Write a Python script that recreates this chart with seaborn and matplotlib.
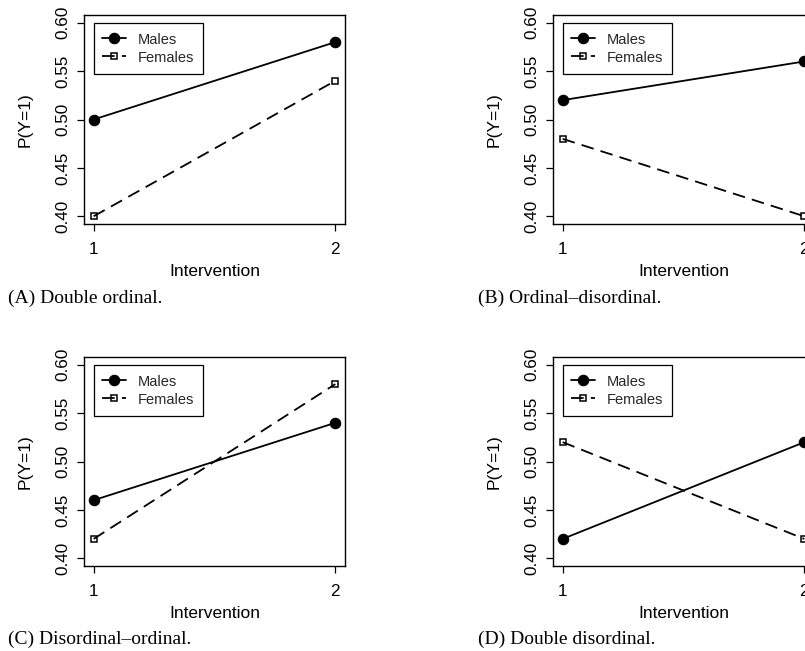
import matplotlib
matplotlib.use("Agg")
import matplotlib.pyplot as plt
import seaborn as sns
import pandas as pd

# Data
interventions = [1, 2]
males_A = [0.50, 0.58]
females_A = [0.40, 0.54]
males_B = [0.52, 0.56]
females_B = [0.48, 0.40]
males_C = [0.46, 0.54]
females_C = [0.42, 0.58]
males_D = [0.42, 0.52]
females_D = [0.52, 0.42]
captions = ["(A) Double ordinal.", "(B) Ordinal\u2013disordinal.",
            "(C) Disordinal\u2013ordinal.", "(D) Double disordinal."]
yticks = [0.40, 0.45, 0.50, 0.55, 0.60]
ytick_labels = ["0.40", "0.45", "0.50", "0.55", "0.60"]
xtick_labels = ["1", "2"]

sns.set_theme(style="ticks")
plt.rcParams["font.family"] = ["Liberation Sans", "DejaVu Sans"]

W, H = 805, 651
fig = plt.figure(figsize=(W / 100, H / 100), dpi=100)

def px_axes(left, top, width, height):
    return fig.add_axes([left / W, 1 - (top + height) / H, width / W, height / H])

panels = [
    (84, 15, males_A, females_A, captions[0], 8, 298),
    (553, 15, males_B, females_B, captions[1], 478, 298),
    (84, 357, males_C, females_C, captions[2], 8, 639),
    (553, 357, males_D, females_D, captions[3], 478, 639),
]

for left, top, m, f, cap, cx, cy in panels:
    ax = px_axes(left, top, 261, 209)
    df = pd.DataFrame({"x": interventions * 2, "y": m + f,
                       "sex": ["Males"] * 2 + ["Females"] * 2})
    dm = df[df.sex == "Males"]
    dfm = df[df.sex == "Females"]
    sns.lineplot(data=dm, x="x", y="y", ax=ax, color="black", lw=1.3,
                 marker="o", markersize=7.5, markerfacecolor="black",
                 markeredgecolor="black", markeredgewidth=0.8, label="Males")
    sns.lineplot(data=dfm, x="x", y="y", ax=ax, color="black", lw=1.3,
                 linestyle=(0, (7, 4)), marker="s", markersize=4.8,
                 markerfacecolor="none", markeredgecolor="black",
                 markeredgewidth=1.1, label="Females")
    ax.set_xlim(0.96, 2.04)
    ax.set_ylim(0.392, 0.608)
    ax.set_xticks(interventions)
    ax.set_xticklabels(xtick_labels)
    ax.set_yticks(yticks)
    ax.set_yticklabels(ytick_labels, rotation=90, va="center")
    ax.tick_params(axis="both", direction="out", length=5, width=0.9,
                   colors="black", labelsize=12.3)
    ax.tick_params(axis="x", pad=8)
    ax.tick_params(axis="y", pad=5)
    for s in ax.spines.values():
        s.set_visible(True)
        s.set_color("black")
        s.set_linewidth(1.0)
    ax.set_xlabel("Intervention", fontsize=12.5, color="black", labelpad=5)
    ax.set_ylabel("P(Y=1)", fontsize=12.5, color="black", labelpad=16)
    ax.set_facecolor("white")
    leg = ax.legend(loc="upper left", bbox_to_anchor=(1, 0.6),
                    bbox_transform=ax.transData, borderaxespad=0,
                    frameon=True, fancybox=False, fontsize=10.5,
                    handlelength=1.6, handletextpad=0.8, borderpad=0.6,
                    handleheight=1.3, labelspacing=0.15)
    leg.get_frame().set_edgecolor("black")
    leg.get_frame().set_linewidth(0.9)
    leg.get_frame().set_alpha(1)
    fig.text(cx / W, 1 - cy / H, cap, family=["Liberation Serif", "DejaVu Serif"],
             fontsize=14, color="black", ha="left", va="center")

fig.savefig("out.png", dpi=100, facecolor="white")
